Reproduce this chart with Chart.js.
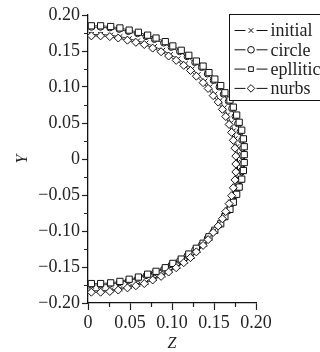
<!DOCTYPE html>
<html>
<head>
<meta charset="utf-8">
<script src="https://cdn.jsdelivr.net/npm/chart.js@4/dist/chart.umd.min.js"></script>
<style>
  html, body { margin: 0; padding: 0; background: #fff; }
  #wrap { width: 320px; height: 352px; }
</style>
</head>
<body>
<div id="wrap"><canvas id="profileChart" width="320" height="352"></canvas></div>
<script>
// series names as in the legend
const seriesNames = ['initial', 'circle', 'epllitic', 'nurbs'];

// Z coordinates / Y coordinates of each profile, top to bottom
const initialZ = [0.004,0.015,0.027,0.038,0.049,0.059,0.069,0.079,0.089,0.098,0.107,0.116,0.124,0.131,0.139,0.145,0.151,0.157,0.162,0.166,0.170,0.173,0.175,0.177,0.178,0.178,0.178,0.177,0.175,0.173,0.170,0.166,0.162,0.157,0.151,0.145,0.139,0.131,0.124,0.116,0.107,0.098,0.089,0.079,0.069,0.059,0.049,0.038,0.027,0.015,0.004];
const initialY = [0.173,0.173,0.172,0.170,0.167,0.164,0.161,0.156,0.151,0.145,0.139,0.132,0.125,0.117,0.108,0.100,0.090,0.081,0.071,0.061,0.050,0.039,0.028,0.017,0.006,-0.005,-0.016,-0.027,-0.038,-0.049,-0.060,-0.071,-0.081,-0.091,-0.100,-0.110,-0.118,-0.127,-0.135,-0.142,-0.149,-0.155,-0.161,-0.166,-0.171,-0.174,-0.177,-0.180,-0.182,-0.183,-0.183];

const circleZ = [0.004,0.015,0.026,0.037,0.048,0.059,0.069,0.079,0.090,0.099,0.109,0.118,0.127,0.135,0.142,0.149,0.156,0.161,0.167,0.171,0.175,0.178,0.181,0.183,0.184,0.184,0.184,0.183,0.181,0.178,0.175,0.171,0.167,0.161,0.156,0.149,0.142,0.135,0.127,0.118,0.109,0.099,0.090,0.079,0.069,0.059,0.048,0.037,0.026,0.015,0.004];
const circleY = [0.183,0.183,0.182,0.180,0.177,0.174,0.170,0.166,0.161,0.155,0.149,0.142,0.134,0.127,0.118,0.109,0.100,0.090,0.080,0.070,0.059,0.049,0.038,0.026,0.015,0.004,-0.007,-0.018,-0.030,-0.041,-0.051,-0.062,-0.072,-0.082,-0.092,-0.101,-0.110,-0.119,-0.126,-0.134,-0.141,-0.147,-0.153,-0.158,-0.162,-0.166,-0.169,-0.172,-0.174,-0.175,-0.175];

const epllZ = [0.004,0.015,0.027,0.038,0.049,0.060,0.071,0.081,0.092,0.101,0.111,0.120,0.129,0.137,0.144,0.151,0.158,0.163,0.169,0.173,0.177,0.180,0.183,0.185,0.186,0.186,0.186,0.185,0.183,0.180,0.177,0.173,0.169,0.163,0.158,0.151,0.144,0.137,0.129,0.120,0.111,0.101,0.092,0.081,0.071,0.060,0.049,0.038,0.027,0.015,0.004];
const epllY = [0.185,0.185,0.184,0.182,0.179,0.176,0.172,0.168,0.163,0.157,0.151,0.144,0.136,0.129,0.120,0.111,0.102,0.092,0.082,0.072,0.061,0.051,0.040,0.028,0.017,0.006,-0.005,-0.016,-0.028,-0.039,-0.049,-0.060,-0.070,-0.080,-0.090,-0.099,-0.108,-0.117,-0.124,-0.132,-0.139,-0.145,-0.151,-0.156,-0.160,-0.164,-0.167,-0.170,-0.172,-0.173,-0.173];

const nurbsZ = [0.004,0.015,0.026,0.036,0.047,0.057,0.067,0.077,0.087,0.096,0.105,0.114,0.122,0.129,0.137,0.143,0.149,0.155,0.160,0.164,0.168,0.171,0.173,0.175,0.176,0.176,0.176,0.175,0.173,0.171,0.168,0.164,0.160,0.155,0.149,0.143,0.137,0.129,0.122,0.114,0.105,0.096,0.087,0.077,0.067,0.057,0.047,0.036,0.026,0.015,0.004];
const nurbsY = [0.171,0.171,0.170,0.168,0.165,0.162,0.159,0.154,0.149,0.143,0.137,0.130,0.123,0.115,0.106,0.098,0.088,0.079,0.069,0.059,0.048,0.037,0.026,0.015,0.004,-0.007,-0.018,-0.029,-0.040,-0.051,-0.062,-0.073,-0.083,-0.093,-0.102,-0.112,-0.120,-0.129,-0.137,-0.144,-0.151,-0.157,-0.163,-0.168,-0.173,-0.176,-0.179,-0.182,-0.184,-0.185,-0.185];

// axis tick labels
const zTickLabels = ['0', '0.05', '0.10', '0.15', '0.20'];
const yTickLabels = ['\u22120.20', '\u22120.15', '\u22120.10', '\u22120.05', '0', '0.05', '0.10', '0.15', '0.20'];

const serif = '"Liberation Serif", "DejaVu Serif", serif';
const ink = '#222';

function zip(xs, ys) {
    return xs.map((x, i) => ({ x: x, y: ys[i] }));
}

function makeSet(i, xs, ys, style, radius, order) {
    return {
        label: seriesNames[i],
        data: zip(xs, ys),
        showLine: true,
        borderColor: '#111',
        borderWidth: 0.8,
        pointStyle: style,
        pointRadius: radius,
        pointBorderWidth: 1,
        pointBorderColor: '#111',
        pointBackgroundColor: '#fff',
        clip: false,
        order: order
    };
}

// minor ticks (every 0.025) are shorter and unlabeled
function isMajor(v) {
    return Math.round(v * 40) % 2 === 0;
}

const minorTicks = {
    id: 'minorTicks',
    afterDraw(chart) {
        const ctx = chart.ctx;
        const xs = chart.scales.x, ys = chart.scales.y;
        ctx.save();
        ctx.strokeStyle = ink;
        ctx.lineWidth = 1.2;
        ctx.beginPath();
        xs.ticks.forEach(t => {
            if (isMajor(t.value)) return;
            const px = Math.round(xs.getPixelForValue(t.value)) + 0.5;
            ctx.moveTo(px, xs.top);
            ctx.lineTo(px, xs.top + 4);
        });
        ys.ticks.forEach(t => {
            if (isMajor(t.value)) return;
            const py = Math.round(ys.getPixelForValue(t.value)) + 0.5;
            ctx.moveTo(ys.right, py);
            ctx.lineTo(ys.right - 4, py);
        });
        ctx.stroke();
        ctx.restore();
    }
};

// boxed legend inside the top right corner of the plot
const boxLegend = {
    id: 'boxLegend',
    afterDraw(chart) {
        const ctx = chart.ctx;
        const area = chart.chartArea;
        const left = Math.round(area.right) - 27 + 0.5;
        const top = Math.round(area.top) - 1 + 0.5;
        ctx.save();
        ctx.fillStyle = '#fff';
        ctx.fillRect(left, top, 120, 86);
        ctx.strokeStyle = '#111';
        ctx.lineWidth = 1;
        ctx.strokeRect(left, top, 120, 86);
        ctx.font = '18px ' + serif;
        ctx.textBaseline = 'middle';
        chart.data.datasets.forEach((ds, i) => {
            const y = top + 16 + i * 19.3;
            ctx.strokeStyle = '#111';
            ctx.lineWidth = 1;
            ctx.beginPath();
            ctx.moveTo(left + 5, y);
            ctx.lineTo(left + 16, y);
            ctx.moveTo(left + 27, y);
            ctx.lineTo(left + 38, y);
            ctx.stroke();
            ctx.fillStyle = '#fff';
            Chart.helpers.drawPoint(ctx, {
                pointStyle: ds.pointStyle,
                radius: ds.pointStyle === 'rectRot' ? 3.8 : 3.3,
                rotation: 0,
                borderWidth: 1
            }, left + 21.5, y);
            ctx.fillStyle = ink;
            ctx.fillText(ds.label, left + 41, y + 1);
        });
        ctx.restore();
    }
};

const ctx = document.getElementById('profileChart').getContext('2d');
const chart = new Chart(ctx, {
    type: 'scatter',
    data: {
        datasets: [
            makeSet(0, initialZ, initialY, 'crossRot', 3.5, 2),
            makeSet(1, circleZ, circleY, 'circle', 3, 3),
            makeSet(2, epllZ, epllY, 'rect', 4.4, 1),
            makeSet(3, nurbsZ, nurbsY, 'rectRot', 4.0, 0)
        ]
    },
    options: {
        responsive: false,
        animation: false,
        layout: { padding: { top: 15, right: 64, left: 0, bottom: 0 } },
        plugins: {
            legend: { display: false },
            tooltip: { enabled: false }
        },
        scales: {
            x: {
                type: 'linear',
                position: 'bottom',
                min: 0,
                max: 0.2,
                afterFit: s => { s.height = 49; },
                ticks: {
                    stepSize: 0.025,
                    autoSkip: false,
                    maxRotation: 0,
                    padding: 2,
                    color: ink,
                    font: { family: serif, size: 18 },
                    callback: v => isMajor(v) ? zTickLabels[Math.round(v * 20)] : ''
                },
                grid: {
                    drawOnChartArea: false,
                    tickLength: 7,
                    tickWidth: 1.2,
                    tickColor: c => isMajor(c.tick.value) ? ink : 'rgba(0,0,0,0)'
                },
                border: { color: '#111', width: 1.3 },
                title: {
                    display: true,
                    text: 'Z',
                    color: ink,
                    padding: { top: 0, bottom: 0 },
                    font: { family: serif, size: 16, style: 'italic', lineHeight: 1 }
                }
            },
            y: {
                type: 'linear',
                min: -0.2,
                max: 0.2,
                afterFit: s => { s.width = 88; },
                ticks: {
                    stepSize: 0.025,
                    autoSkip: false,
                    padding: 2,
                    color: ink,
                    font: { family: serif, size: 18 },
                    callback: v => isMajor(v) ? yTickLabels[Math.round(v * 20) + 4] : ''
                },
                grid: {
                    drawOnChartArea: false,
                    tickLength: 6,
                    tickWidth: 1.2,
                    tickColor: c => isMajor(c.tick.value) ? ink : 'rgba(0,0,0,0)'
                },
                border: { color: '#111', width: 1.3 },
                title: {
                    display: true,
                    text: 'Y',
                    color: ink,
                    padding: { top: 15, bottom: 0 },
                    font: { family: serif, size: 16, style: 'italic', lineHeight: 1 }
                }
            }
        }
    },
    plugins: [minorTicks, boxLegend]
});
</script>
</body>
</html>
